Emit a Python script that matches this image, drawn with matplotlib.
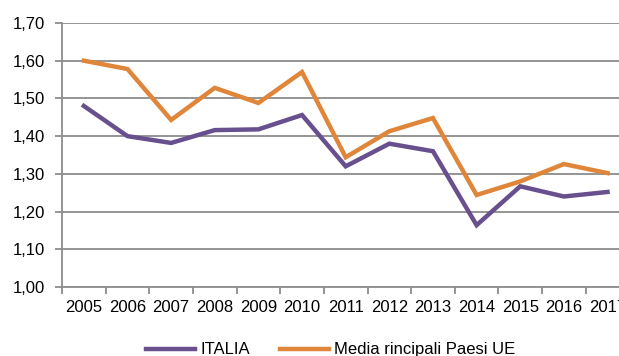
import matplotlib.pyplot as plt
from matplotlib.ticker import FuncFormatter

plt.rcParams['font.family'] = ['Liberation Sans', 'DejaVu Sans']

anni = ["2005", "2006", "2007", "2008", "2009", "2010", "2011",
        "2012", "2013", "2014", "2015", "2016", "2017"]
italia = [1.48, 1.40, 1.382, 1.416, 1.418, 1.456, 1.32,
          1.38, 1.36, 1.164, 1.267, 1.24, 1.252]
media_ue = [1.60, 1.578, 1.443, 1.528, 1.488, 1.570, 1.344,
            1.413, 1.448, 1.244, 1.28, 1.326, 1.302]

viola = "#68508E"
arancio = "#E0863A"
grigio = "#8C8C8C"

fig = plt.figure(figsize=(6.19, 3.56), dpi=100)
ax = fig.add_axes([0.1002, 0.1938, 0.9165, 0.7416])

x = list(range(len(anni)))
l1, = ax.plot(x, italia, color=viola, lw=3.2, solid_joinstyle="miter",
              label="ITALIA", zorder=3)
l2, = ax.plot(x, media_ue, color=arancio, lw=3.2, solid_joinstyle="miter",
              label="Media rincipali Paesi UE", zorder=3)

ax.set_xlim(-0.5, len(anni) - 0.5)
ax.set_ylim(1.0, 1.7)
ax.set_yticks([1.0 + 0.1 * i for i in range(8)])
ax.yaxis.set_major_formatter(FuncFormatter(lambda v, p: f"{v:.2f}".replace(".", ",")))
# tacche tra le categorie, etichette al centro
ax.set_xticks([i - 0.5 for i in range(len(anni) + 1)], minor=False)
ax.set_xticklabels([""] * (len(anni) + 1))
ax.set_xticks(x, minor=True)
ax.set_xticklabels(anni, minor=True)
ax.tick_params(axis="x", which="minor", length=0, pad=9, labelsize=12)
ax.tick_params(axis="x", which="major", length=5, width=1.3, color=grigio, direction="out")
ax.tick_params(axis="y", length=5, width=1.3, color=grigio, pad=7, labelsize=12)

ax.grid(axis="y", color=grigio, lw=1.3, zorder=0)
ax.set_axisbelow(True)
for s in ["top", "right"]:
    ax.spines[s].set_visible(False)
for s in ["left", "bottom"]:
    ax.spines[s].set_color(grigio)
    ax.spines[s].set_linewidth(1.3)

fig.legend(handles=[l1, l2], loc="center", bbox_to_anchor=(0.534, 0.017),
           ncol=2, frameon=False, fontsize=12, handlelength=2.95,
           handletextpad=0.3, columnspacing=1.8, handleheight=0.5)

plt.savefig("out.png", dpi=100)
